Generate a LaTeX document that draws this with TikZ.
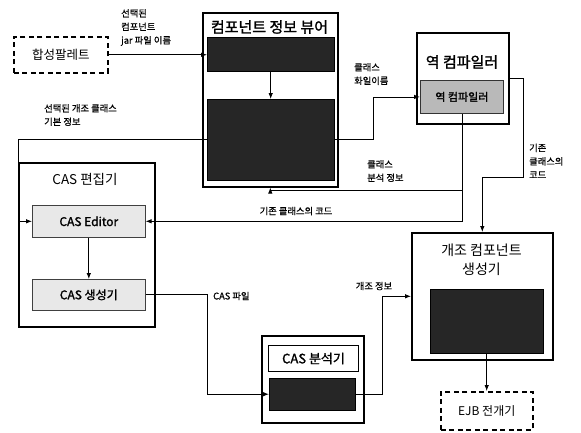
\documentclass[tikz,border=0pt]{standalone}
\usepackage{fontspec}
\setmainfont{Noto Sans CJK KR}[AutoFakeBold=1.5]
\newfontfamily\lblfont{Noto Sans CJK KR}[FakeBold=0.7]
\usetikzlibrary{arrows.meta,calc}
\begin{document}
\begin{tikzpicture}[x=1pt,y=-1pt,
  outerbox/.style={draw,line width=1.6pt,fill=white,anchor=north west,inner sep=0pt},
  darkbox/.style={draw=black,fill=black!85,anchor=north west,inner sep=0pt},
  dashbox/.style={draw,line width=1.5pt,dash pattern=on 5pt off 3.5pt,anchor=north west,inner sep=0pt},
  lightbox/.style={draw=black!75,line width=0.6pt,fill=gray!18,anchor=north west,inner sep=0pt,font=\bfseries\fontsize{12}{14}\selectfont},
  graybox/.style={draw=black!80,line width=0.8pt,fill=gray!55,anchor=north west,inner sep=0pt,font=\bfseries\fontsize{11}{13}\selectfont},
  titlebox/.style={draw,line width=1pt,fill=white,anchor=north west,inner sep=0pt,font=\bfseries\fontsize{13}{15}\selectfont},
  ttl/.style={font=\bfseries\fontsize{15}{18}\selectfont,inner sep=0pt},
  lbl/.style={font=\lblfont\fontsize{9.3}{13.5}\selectfont,inner sep=0pt,align=left},
  conn/.style={line width=0.8pt},
  arr/.style={conn,-{Latex[length=6pt,width=4.5pt]}}
]
\useasboundingbox (0,0) rectangle (581,432);
% nodes
\node[dashbox,minimum width=94pt,minimum height=36pt,font=\fontsize{12.5}{15}\selectfont] (pal) at (13,36) {합성팔레트};
\node[outerbox,minimum width=135pt,minimum height=174pt] (viewer) at (202,12) {};
\node[ttl] (viewerT) at (269.5,27) {컴포넌트 정보 뷰어};
\node[darkbox,minimum width=127pt,minimum height=34pt] (v1) at (207,37) {};
\node[darkbox,minimum width=127pt,minimum height=81pt] (v2) at (207,99) {};

\node[outerbox,minimum width=92pt,minimum height=91pt] (dec) at (416,32) {};
\node[ttl] (decT) at (462,62) {역 컴파일러};
\node[graybox,minimum width=83pt,minimum height=33pt] (decin) at (420,80) {역 컴파일러};

\node[outerbox,minimum width=136pt,minimum height=164pt] (cas) at (18,162) {};
\node[ttl,font=\fontsize{13.5}{16}\selectfont] (casT) at (85,179) {CAS 편집기};
\node[lightbox,minimum width=113pt,minimum height=32pt] (casedit) at (32,205) {CAS Editor};
\node[lightbox,minimum width=113pt,minimum height=31pt] (casgen) at (32,279) {CAS 생성기};

\node[outerbox,minimum width=141pt,minimum height=127pt] (mod) at (411,232) {};
\node[ttl,align=center,font=\fontsize{14}{19}\selectfont] (modT) at (481.5,259.5) {개조 컴포넌트\\생성기};
\node[darkbox,minimum width=113pt,minimum height=64pt] (moddark) at (430,289) {};

\node[dashbox,minimum width=92pt,minimum height=38pt,font=\fontsize{12}{14}\selectfont] (ejb) at (440,391) {EJB 전개기};

\node[outerbox,minimum width=102pt,minimum height=87pt] (ana) at (261,335) {};
\node[titlebox,minimum width=90pt,minimum height=26pt] (anaT) at (268,345) {CAS 분석기};
\node[darkbox,minimum width=86pt,minimum height=32pt] (anadark) at (269,378) {};

% labels
\node[lbl,anchor=west] (l1) at (121,27.5) {선택된\\컴포넌트\\jar 파일 이름};
\node[lbl,anchor=west] (l2) at (354,74) {클래스\\화일이름};
\node[lbl,anchor=west] (l3) at (44,115) {선택된 개조 클래스\\기본 정보};
\node[lbl,anchor=west] (l4) at (367,171) {클래스\\분석 정보};
\node[lbl,anchor=west] (l5) at (529,161) {기존\\클래스의\\코드};
\node[lbl] (l6) at (296,211) {기존 클래스의 코드};
\node[lbl,anchor=west] (l7) at (213,296) {CAS 파일};
\node[lbl] (l8) at (374,286) {개조 정보};

% connectors
\draw[arr] (pal.east) -- (pal.east -| v1.west);
\draw[arr] (v1.south) -- (v2.north);
\draw[arr] (v2.east) -- ++(39,0) |- (decin.west);
\draw[arr] (decin.south) |- (casedit.east);
\coordinate (br) at ($(decin.south)+(0,77)$);
\draw[arr] (br) -| (viewer.south);
\draw[arr] (dec.east) -- ++(14,0) |- ($(mod.north)+(0,-55)$) -- (mod.north);
\draw[arr] (v2.west) -- (v2.west -| cas.west) |- (casedit.west);
\draw[arr] (casedit.south) -- (casgen.north);
\draw[arr] (casgen.east) -- ++(62,0) |- (anadark.west);
\draw[arr] (anadark.east) -- ++(27,0) |- (mod.west);
\draw[arr] (moddark.south) -- (moddark.south |- ejb.north);
\end{tikzpicture}
\end{document}
